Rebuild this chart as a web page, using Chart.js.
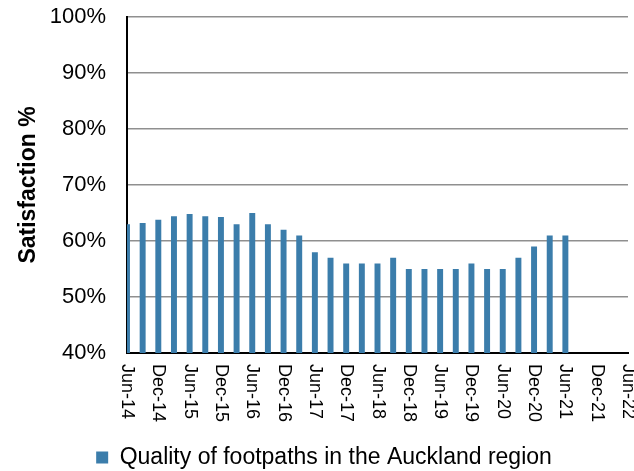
<!DOCTYPE html>
<html>
<head>
<meta charset="utf-8">
<script src="https://cdn.jsdelivr.net/npm/chart.js@4"></script>
<style>
  html, body { margin: 0; padding: 0; background: #fff; }
  #wrap { width: 634px; height: 471px; }
</style>
</head>
<body>
<div id="wrap"><canvas id="footpaths-chart" width="634" height="471"></canvas></div>
<script>
// quarterly survey periods, Jun-14 .. Jun-22
const quarters = [
  'Jun-14', 'Sep-14', 'Dec-14', 'Mar-15', 'Jun-15', 'Sep-15', 'Dec-15', 'Mar-16',
  'Jun-16', 'Sep-16', 'Dec-16', 'Mar-17', 'Jun-17', 'Sep-17', 'Dec-17', 'Mar-18',
  'Jun-18', 'Sep-18', 'Dec-18', 'Mar-19', 'Jun-19', 'Sep-19', 'Dec-19', 'Mar-20',
  'Jun-20', 'Sep-20', 'Dec-20', 'Mar-21', 'Jun-21', 'Sep-21', 'Dec-21', 'Mar-22',
  'Jun-22'
];
// % satisfied with footpath quality (no results yet after Jun-21)
const satisfaction = [
  63, 63.2, 63.8, 64.4, 64.8, 64.4, 64.3, 63,
  65, 63, 62, 61, 58, 57, 56, 56,
  56, 57, 55, 55, 55, 55, 56, 55,
  55, 57, 59, 61, 61, null, null, null,
  null
];
const seriesName = 'Quality of footpaths in the Auckland region';
const yTicks = [40, 50, 60, 70, 80, 90, 100];

const fontFamily = 'Arial, "Liberation Sans", sans-serif';

// x labels are drawn reading downwards, one every half year
const verticalLabels = {
  id: 'verticalLabels',
  afterDraw(chart) {
    const ctx = chart.ctx;
    const xs = chart.scales.x;
    const top = chart.chartArea.bottom + 11;
    ctx.save();
    ctx.font = '18px ' + fontFamily;
    ctx.fillStyle = '#000';
    ctx.textAlign = 'left';
    ctx.textBaseline = 'middle';
    quarters.forEach((q, i) => {
      if (i % 2 !== 0) return;
      ctx.save();
      ctx.translate(xs.getPixelForTick(i), top);
      ctx.rotate(Math.PI / 2);
      ctx.fillText(q, 0, 0);
      ctx.restore();
    });
    ctx.restore();
  }
};

const ctx = document.getElementById('footpaths-chart').getContext('2d');
new Chart(ctx, {
  type: 'bar',
  data: {
    labels: quarters,
    datasets: [{
      label: seriesName,
      data: satisfaction,
      backgroundColor: '#3b7dab',
      categoryPercentage: 1,
      barPercentage: 0.38,
      clip: 0
    }]
  },
  options: {
    responsive: false,
    animation: false,
    layout: { padding: { top: 3, right: 6, left: 20, bottom: -8 } },
    scales: {
      x: {
        offset: false,
        grid: { display: false },
        border: { display: true, color: '#000', width: 2 },
        ticks: { display: false },
        afterFit(scale) { scale.height = 93; }
      },
      y: {
        min: 40,
        max: 100,
        afterBuildTicks(scale) {
          scale.ticks = yTicks.map(v => ({ value: v }));
        },
        // tick padding would otherwise also push the plot top down
        afterFit(scale) { scale.paddingTop = 17; },
        ticks: {
          font: { family: fontFamily, size: 22 },
          color: '#000',
          padding: 21,
          callback: v => v + '%'
        },
        grid: {
          drawTicks: false,
          lineWidth: 1.5,
          color: c => c.tick && c.tick.value === 40 ? 'rgba(0,0,0,0)' : '#8f8f8f'
        },
        border: { color: '#000', width: 2 },
        title: {
          display: true,
          text: 'Satisfaction %',
          color: '#000',
          // thin line box so the title can sit close to the tick labels
          font: { family: fontFamily, size: 23, weight: 'bold', lineHeight: 0.01 },
          padding: { top: 8.5, bottom: 0 }
        }
      }
    },
    plugins: {
      legend: {
        position: 'bottom',
        labels: {
          color: '#000',
          font: { family: fontFamily, size: 23 },
          boxWidth: 12,
          boxHeight: 12,
          padding: 0
        }
      },
      tooltip: { enabled: false }
    }
  },
  plugins: [verticalLabels]
});
</script>
</body>
</html>
